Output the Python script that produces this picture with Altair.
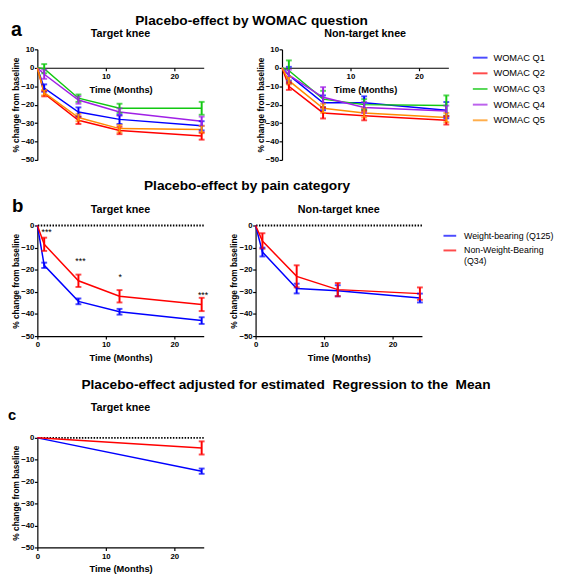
import altair as alt
import pandas as pd

FONT = "Liberation Sans"
months = [0, 1, 6, 12, 24]

# ---------------- Panel a: placebo effect by WOMAC question ----------------
womac_labels = ["WOMAC Q1", "WOMAC Q2", "WOMAC Q3", "WOMAC Q4", "WOMAC Q5"]
womac_colors = ["#0000ff", "#ff0000", "#11c811", "#a020e6", "#ff8c00"]

a_target_q1 = [0, -11, -24, -28, -31.5]
a_target_q2 = [0, -14, -28.5, -34, -37]
a_target_q3 = [0, -0.5, -16.5, -22, -22]
a_target_q4 = [0, -3.5, -17.5, -24, -29]
a_target_q5 = [0, -13.5, -27, -33, -33.5]
a_target_q1_err = [0, 2, 2.5, 2.5, 2.5]
a_target_q2_err = [0, 1.5, 2, 2, 2]
a_target_q3_err = [0, 2.5, 2, 2.5, 3.5]
a_target_q4_err = [0, 2.5, 2, 2, 2.5]
a_target_q5_err = [0, 1.5, 2, 2, 2]

a_nontarget_q1 = [0, -4, -19, -19, -23]
a_nontarget_q2 = [0, -10, -24.5, -26, -28.5]
a_nontarget_q3 = [0, -1.5, -17, -20, -20.5]
a_nontarget_q4 = [0, -4, -16, -21.5, -23.5]
a_nontarget_q5 = [0, -7, -22, -24.5, -27]
a_nontarget_q1_err = [0, 4.5, 4, 3.5, 4.4]
a_nontarget_q2_err = [0, 2, 3, 2.5, 2.3]
a_nontarget_q3_err = [0, 5.5, 4.5, 3, 5.5]
a_nontarget_q4_err = [0, 3, 5.5, 3, 3]
a_nontarget_q5_err = [0, 2, 2.5, 2.5, 2.5]

# ---------------- Panel b: placebo effect by pain category ----------------
pain_labels = ["Weight-bearing (Q125)", "Non-Weight-Bearing|(Q34)"]
pain_colors = ["#0000ff", "#ff0000"]

b_target_wb = [0, -18, -34.3, -39, -43]
b_target_nwb = [0, -8.5, -25, -32, -35.7]
b_target_wb_err = [0, 1.2, 1.3, 1.3, 1.5]
b_target_nwb_err = [0, 3, 2.8, 2.8, 3]

b_nontarget_wb = [0, -12, -28.5, -29.5, -32.8]
b_nontarget_nwb = [0, -7, -23, -29, -30.8]
b_nontarget_wb_err = [0, 2, 2.2, 2.5, 2]
b_nontarget_nwb_err = [0, 3.5, 5, 3, 2.8]

star_months = [1.35, 6.3, 12.1, 24.2]
star_values = [-1.8, -14.8, -22, -30]
star_texts = ["***", "***", "*", "***"]

# ---------------- Panel c: adjusted for regression to the mean ----------------
c_months = [0, 24]
c_wb = [0, -15.2]
c_nwb = [0, -4.6]
c_wb_err = [0, 1.2]
c_nwb_err = [0, 3]


def make_df(labels, means, errs, xs=months):
    rows = []
    for lab, m, e in zip(labels, means, errs):
        for t, v, s in zip(xs, m, e):
            rows.append(dict(series=lab, month=t, value=v, lo=v - s, hi=v + s, err=s))
    return pd.DataFrame(rows)


def y_axis(ticks):
    return alt.Axis(title="% change from baseline", values=ticks, tickSize=3,
                    labelPadding=0.5, titlePadding=0, labelFontSize=8,
                    labelFontWeight="bold", titleFontSize=8.5, titleFontWeight="bold",
                    labelOverlap=False)


def x_axis(values, offset=0):
    return alt.Axis(title="Time (Months)", values=values, tickSize=3, offset=offset,
                    labelPadding=2, titlePadding=4, labelFontSize=8, labelFontWeight="bold",
                    titleFontSize=9.5, titleFontWeight="bold", labelFlush=False,
                    labelOverlap=False)


def text_layer(text, x, y, size, weight="bold", align="left"):
    return alt.Chart(pd.DataFrame({"t": [text]})).mark_text(
        align=align, baseline="alphabetic", fontSize=size, fontWeight=weight,
        font=FONT, color="black").encode(text="t:N", x=alt.value(x), y=alt.value(y))


X_SCALE = alt.Scale(domain=[0, 24.3], nice=False, zero=False)


def y_scale(ydom):
    return alt.Scale(domain=ydom, nice=False, zero=False)


def series_layers(df, labels, colors, xax, yax, ydom, legend, zero_line=False):
    color = alt.Color("series:N", scale=alt.Scale(domain=labels, range=colors), legend=legend)
    ys = y_scale(ydom)
    layers = []
    if zero_line:
        layers.append(alt.Chart(pd.DataFrame({"z": [0]})).mark_rule(
            color="black", strokeWidth=2, strokeDash=[1.5, 1.5]).encode(
            y=alt.Y("z:Q", scale=ys, axis=yax)))
    layers.append(alt.Chart(df).mark_line(strokeWidth=1.5).encode(
        x=alt.X("month:Q", scale=X_SCALE, axis=xax),
        y=alt.Y("value:Q", scale=ys, axis=yax),
        color=color, order="month:Q"))
    layers.append(alt.Chart(df).transform_filter("datum.err > 0").mark_errorbar(
        ticks=True, size=6, thickness=2).encode(
        x=alt.X("month:Q", scale=X_SCALE, axis=xax),
        y=alt.Y("lo:Q", scale=ys, axis=yax),
        y2="hi:Q", color=color))
    return layers


W, H = 170, 113

legend_a = alt.Legend(title=None, orient="right", offset=23, padding=0, symbolType="stroke",
                      symbolSize=225, symbolStrokeWidth=2, labelFontSize=9.5, labelFont=FONT,
                      labelOffset=5, rowPadding=3, labelColor="black")
legend_b = alt.Legend(title=None, orient="right", offset=17, padding=3, symbolType="stroke",
                      symbolSize=169, symbolStrokeWidth=2, labelFontSize=9, labelFont=FONT,
                      labelOffset=7, rowPadding=2, labelColor="black", labelLimit=200,
                      labelExpr="split(datum.label, '|')")

ticks_a = [-50, -40, -30, -20, -10, 0, 10]
ticks_b = [-50, -40, -30, -20, -10, 0]

# ---- row a ----
df_a1 = make_df(womac_labels, [a_target_q1, a_target_q2, a_target_q3, a_target_q4, a_target_q5],
                [a_target_q1_err, a_target_q2_err, a_target_q3_err, a_target_q4_err, a_target_q5_err])
df_a2 = make_df(womac_labels, [a_nontarget_q1, a_nontarget_q2, a_nontarget_q3, a_nontarget_q4, a_nontarget_q5],
                [a_nontarget_q1_err, a_nontarget_q2_err, a_nontarget_q3_err, a_nontarget_q4_err, a_nontarget_q5_err])

x_off_a = -(H - H * 10 / 60)
a1 = alt.layer(
    *series_layers(df_a1, womac_labels, womac_colors, x_axis([10, 20], x_off_a), y_axis(ticks_a),
                   [-50, 10], None),
    text_layer("a", -27, -14, 20),
    text_layer("Target knee", W / 2, -13, 11, align="center"),
).properties(width=W, height=H)

a2 = alt.layer(
    *series_layers(df_a2, womac_labels, womac_colors, x_axis([10, 20], x_off_a), y_axis(ticks_a),
                   [-50, 10], legend_a),
    text_layer("Non-target knee", W / 2, -13, 11, align="center"),
).properties(width=W, height=H)

row_a = alt.hconcat(a1, a2, spacing=80, bounds="flush").resolve_scale(color="independent").properties(
    title=alt.Title("Placebo-effect by WOMAC question", anchor="start", dx=127, fontSize=14,
                    fontWeight="bold", font=FONT, offset=-8, color="black"))

# ---- row b ----
df_b1 = make_df(pain_labels, [b_target_wb, b_target_nwb], [b_target_wb_err, b_target_nwb_err])
df_b2 = make_df(pain_labels, [b_nontarget_wb, b_nontarget_nwb], [b_nontarget_wb_err, b_nontarget_nwb_err])
stars = pd.DataFrame({"month": star_months, "value": star_values, "t": star_texts})

b1 = alt.layer(
    *series_layers(df_b1, pain_labels, pain_colors, x_axis([0, 10, 20]), y_axis(ticks_b),
                   [-50, 0], None, zero_line=True),
    alt.Chart(stars).mark_text(fontSize=9, font=FONT, baseline="middle", dy=3, color="black").encode(
        x=alt.X("month:Q", scale=X_SCALE, axis=x_axis([0, 10, 20])),
        y=alt.Y("value:Q", scale=y_scale([-50, 0]), axis=y_axis(ticks_b)),
        text="t:N"),
    text_layer("b", -26, -14, 19),
    text_layer("Target knee", W / 2, -13, 11, align="center"),
).properties(width=W, height=H)

b2 = alt.layer(
    *series_layers(df_b2, pain_labels, pain_colors, x_axis([0, 10, 20]), y_axis(ticks_b),
                   [-50, 0], legend_b, zero_line=True),
    text_layer("Non-target knee", W / 2, -13, 11, align="center"),
).properties(width=W, height=H)

row_b = alt.hconcat(b1, b2, spacing=53, bounds="flush").resolve_scale(color="independent").properties(
    title=alt.Title("Placebo-effect by pain category", anchor="start", dx=135, fontSize=14,
                    fontWeight="bold", font=FONT, offset=4, color="black"))

# ---- row c ----
df_c = make_df(pain_labels, [c_wb, c_nwb], [c_wb_err, c_nwb_err], xs=c_months)
c1 = alt.layer(
    *series_layers(df_c, pain_labels, pain_colors, x_axis([0, 10, 20]), y_axis(ticks_b),
                   [-50, 0], None, zero_line=True),
    text_layer("c", -30, -18, 15),
    text_layer("Target knee", W / 2, -27, 11, align="center"),
).properties(width=W, height=112)

row_c = alt.hconcat(c1, bounds="flush").properties(
    title=alt.Title("Placebo-effect adjusted for estimated\u00a0 Regression to the\u00a0 Mean",
                    anchor="start", dx=75, fontSize=14, fontWeight="bold", font=FONT, offset=11,
                    color="black"))

chart = alt.vconcat(row_a, row_b, row_c, spacing=16).properties(
    padding={"left": 0, "top": 0, "right": 0, "bottom": 0}
).configure(font=FONT).configure_view(stroke=None).configure_axis(
    grid=False, domainColor="black", tickColor="black", labelColor="black", titleColor="black",
    domainWidth=1.2, tickWidth=1.2, labelFont=FONT, titleFont=FONT
).configure_legend(labelFontSize=9.5)

chart.save("out.html", embed_options={"renderer": "svg", "actions": False})
